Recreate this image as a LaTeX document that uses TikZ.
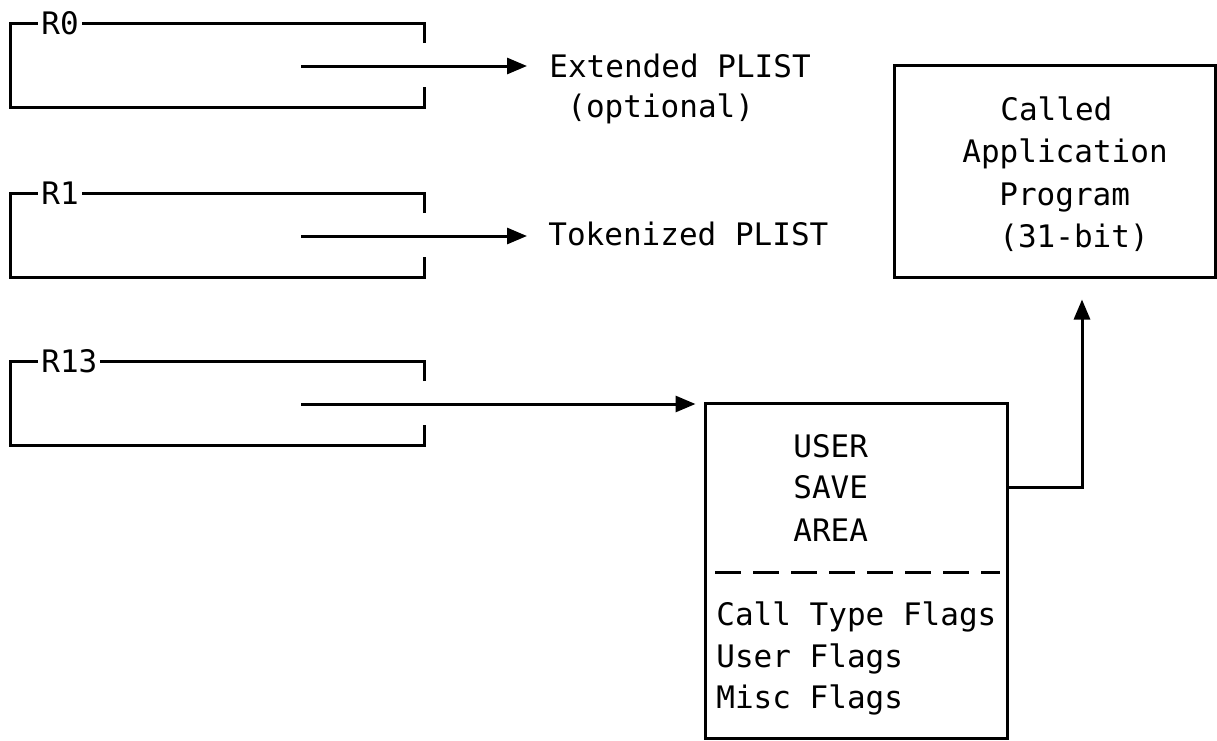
\documentclass[tikz,border=0pt]{standalone}
\usepackage{fontspec}
\setmonofont{DejaVu Sans Mono}
\usetikzlibrary{arrows.meta}
\begin{document}
\begin{tikzpicture}[x=0.5pt,y=-0.5pt,
  ln/.style={line width=1.5pt},
  arr/.style={ln,-{Triangle[length=10pt,width=8pt]}},
  txt/.style={font=\ttfamily\fontsize{15.5}{18}\selectfont, inner sep=0pt, anchor=base west},
  boxed/.style={draw, ln, inner sep=0pt},
  reglab/.style={txt, fill=white, inner xsep=1.5pt, inner ysep=1pt, anchor=west}]
\useasboundingbox (0,0) rectangle (1217,740);
% registers
\foreach \nm/\lab/\t in {r0/R0/23,r1/R1/193,r13/R13/361}{
  \pgfmathsetmacro\b{\t+84}
  \pgfmathsetmacro\m{\t+43}
  \draw[ln] (424,\t+20) -- (424,\t) -- (10,\t) -- (10,\b) -- (424,\b) -- (424,\b-20);
  \node[reglab] (\nm lab) at (38,\t) {\lab};
  \coordinate (\nm out) at (301,\m);
}
% texts on the right of registers
\node[txt] (ext) at (549,77) {Extended PLIST};
\node[txt] (opt) at (567,117) {(optional)};
\node[txt] (tok) at (548,245) {Tokenized PLIST};
\draw[arr] (r0out) -- ([xshift=-11pt]ext.west |- r0out);
\draw[arr] (r1out) -- ([xshift=-10.5pt]tok.west |- r1out);
% user save area
\node[boxed, minimum width=151pt, minimum height=167.5pt] (user) at (856,570.5) {};
\draw[arr] (r13out) -- ([xshift=-4pt]r13out -| user.west);
\node[txt] (u1) at (793,457) {USER};
\node[txt] (u2) at (793,498) {SAVE};
\node[txt] (u3) at (793,541) {AREA};
\draw[ln, dash pattern=on 13pt off 6pt] (715,572) -- (1000,572);
\node[txt] (f1) at (716,625) {Call Type Flags};
\node[txt] (f2) at (716,667) {User Flags};
\node[txt] (f3) at (716,708) {Misc Flags};
% called program
\node[boxed, minimum width=160.5pt, minimum height=106pt] (called) at (1054.5,171) {};
\node[txt] (c1) at (1000,120) {Called};
\node[txt] (c2) at (962,162) {Application};
\node[txt] (c3) at (999,205) {Program};
\node[txt] (c4) at (999,247) {(31-bit)};
\coordinate (turn) at (1082,487);
\draw[arr, shorten >=10.5pt] (turn -| user.east) -- (turn) -- (turn |- called.south);
\end{tikzpicture}
\end{document}
